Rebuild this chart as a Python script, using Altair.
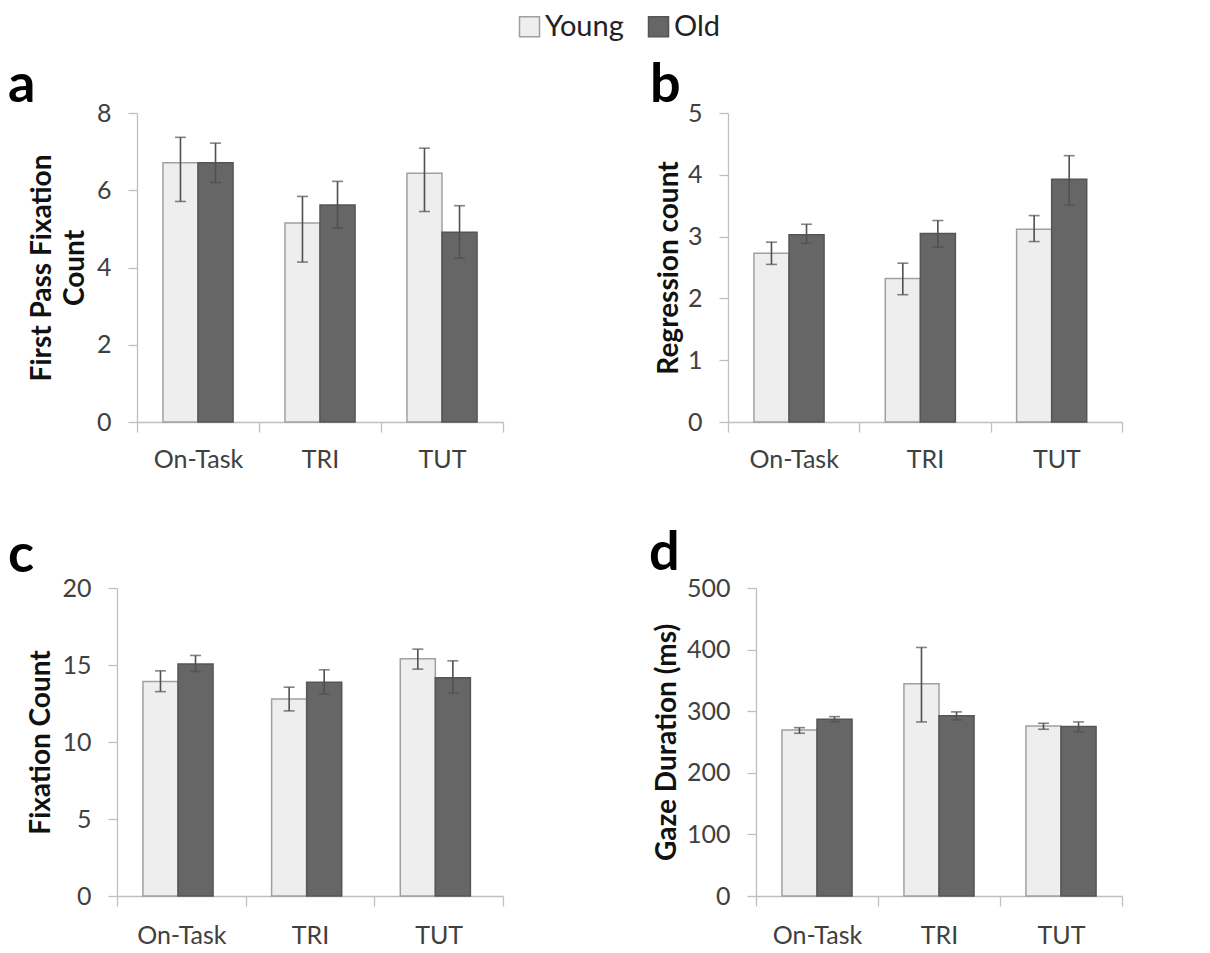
import altair as alt
import pandas as pd

CONDITIONS = ["On-Task", "TRI", "TUT"]
GROUPS = ["Young", "Old"]

# Panel a: First Pass Fixation Count
A_YOUNG = [6.71, 5.15, 6.44]
A_YOUNG_LO = [5.71, 4.14, 5.45]
A_YOUNG_HI = [7.37, 5.84, 7.09]
A_OLD = [6.71, 5.62, 4.91]
A_OLD_LO = [6.20, 5.02, 4.24]
A_OLD_HI = [7.22, 6.23, 5.60]

# Panel b: Regression count
B_YOUNG = [2.73, 2.32, 3.12]
B_YOUNG_LO = [2.55, 2.06, 2.92]
B_YOUNG_HI = [2.91, 2.57, 3.34]
B_OLD = [3.03, 3.05, 3.93]
B_OLD_LO = [2.89, 2.83, 3.51]
B_OLD_HI = [3.20, 3.26, 4.31]

# Panel c: Fixation Count
C_YOUNG = [13.93, 12.80, 15.40]
C_YOUNG_LO = [13.27, 12.02, 14.73]
C_YOUNG_HI = [14.62, 13.56, 16.03]
C_OLD = [15.06, 13.88, 14.18]
C_OLD_LO = [14.58, 13.12, 13.17]
C_OLD_HI = [15.62, 14.69, 15.27]

# Panel d: Gaze Duration (ms)
D_YOUNG = [269.6, 344.4, 276.0]
D_YOUNG_LO = [264.2, 282.6, 270.7]
D_YOUNG_HI = [273.3, 403.5, 280.4]
D_OLD = [287.0, 292.8, 275.0]
D_OLD_LO = [283.1, 285.8, 266.8]
D_OLD_HI = [291.2, 298.9, 282.6]

FONT = "Lato"
AXIS_GRAY = "#bfbfbf"
LABEL_COLOR = "#404040"
ERR_COLOR = "#505050"


def make_df(young, ylo, yhi, old, olo, ohi):
    rows = []
    for i, c in enumerate(CONDITIONS):
        rows.append({"condition": c, "group": "Young", "mean": young[i], "lo": ylo[i], "hi": yhi[i]})
        rows.append({"condition": c, "group": "Old", "mean": old[i], "lo": olo[i], "hi": ohi[i]})
    return pd.DataFrame(rows)


def panel(df, letter, ytitle, ymax, ystep, width, height, dx, dy, title_pad, xlab_pad,
          inset=0, show_legend=False):
    yvals = list(range(0, ymax + 1, ystep))
    xscale = alt.Scale(paddingInner=0, paddingOuter=0, rangeMin=inset) if inset else \
        alt.Scale(paddingInner=0, paddingOuter=0)
    xenc = alt.X(
        "condition:N",
        sort=CONDITIONS,
        scale=xscale,
        axis=alt.Axis(
            title=None, labelAngle=0, tickBand="extent", labelFont=FONT, labelFontSize=25,
            labelColor=LABEL_COLOR, domainColor=AXIS_GRAY, tickColor=AXIS_GRAY, tickSize=10,
            labelPadding=xlab_pad, domainWidth=1.3, tickWidth=1.3,
        ),
    )
    xoff = alt.XOffset("group:N", sort=GROUPS, scale=alt.Scale(paddingInner=0, paddingOuter=0.74))
    yscale = alt.Scale(domain=[0, ymax], nice=False)
    yaxis_kwargs = dict(
        values=yvals, format="d", title=ytitle, labelFont=FONT, labelFontSize=25,
        labelColor=LABEL_COLOR, titleFont=FONT, titleFontSize=28, titleFontWeight="bold",
        titleColor="#111111", titleLineHeight=33, titlePadding=title_pad,
        domainColor=AXIS_GRAY, tickColor=AXIS_GRAY, tickSize=9, labelPadding=17,
        grid=False, domainWidth=1.3, tickWidth=1.3,
    )
    if inset:
        yaxis_kwargs["offset"] = -inset
    yaxis = alt.Axis(**yaxis_kwargs)
    if show_legend:
        legend = alt.Legend(
            title=None, orient="none", legendX=398, legendY=-101, direction="horizontal",
            symbolType="square", symbolSize=400, labelFont=FONT, labelFontSize=29,
            labelColor="#222222", symbolStrokeWidth=1.5, columnPadding=20, labelOffset=1,
            padding=0,
        )
    else:
        legend = None
    base = alt.Chart(df).encode(x=xenc, xOffset=xoff)
    bars = base.mark_bar(strokeWidth=1.5).encode(
        y=alt.Y("mean:Q", scale=yscale, axis=yaxis),
        fill=alt.Fill("group:N", sort=GROUPS,
                      scale=alt.Scale(domain=GROUPS, range=["#eeeeee", "#666666"]), legend=legend),
        stroke=alt.Stroke("group:N", sort=GROUPS,
                          scale=alt.Scale(domain=GROUPS, range=["#a0a0a0", "#555555"]), legend=legend),
    )
    rules = base.mark_rule(color=ERR_COLOR, strokeWidth=1.6).encode(
        y=alt.Y("lo:Q", scale=yscale), y2="hi:Q"
    )
    cap_lo = base.mark_tick(color=ERR_COLOR, thickness=1.6, size=11, orient="horizontal").encode(
        y=alt.Y("lo:Q", scale=yscale)
    )
    cap_hi = base.mark_tick(color=ERR_COLOR, thickness=1.6, size=11, orient="horizontal").encode(
        y=alt.Y("hi:Q", scale=yscale)
    )
    return alt.layer(bars, rules, cap_lo, cap_hi).properties(
        width=width, height=height,
        title=alt.TitleParams(letter, anchor="start", dx=dx, dy=dy, offset=0, font=FONT,
                              fontSize=54, fontWeight="bold", color="#000000",
                              baseline="alphabetic", frame="group"),
    )


df_a = make_df(A_YOUNG, A_YOUNG_LO, A_YOUNG_HI, A_OLD, A_OLD_LO, A_OLD_HI)
df_b = make_df(B_YOUNG, B_YOUNG_LO, B_YOUNG_HI, B_OLD, B_OLD_LO, B_OLD_HI)
df_c = make_df(C_YOUNG, C_YOUNG_LO, C_YOUNG_HI, C_OLD, C_OLD_LO, C_OLD_HI)
df_d = make_df(D_YOUNG, D_YOUNG_LO, D_YOUNG_HI, D_OLD, D_OLD_LO, D_OLD_HI)

pa = panel(df_a, "a", ["First Pass Fixation", "Count"], 8, 2, 386, 309, -109, 55, 7, 15,
           inset=20, show_legend=True)
pb = panel(df_b, "b", "Regression count", 5, 1, 394, 309, -78, 55, 4, 15)
pc = panel(df_c, "c", "Fixation Count", 20, 5, 386, 308, -109, 50, 6, 17)
pd_ = panel(df_d, "d", "Gaze Duration (ms)", 500, 100, 366, 308, -107, 48, 5, 17)

row1 = alt.hconcat(pa, pb, spacing=225, bounds="flush")
row2 = alt.hconcat(pc, pd_, spacing=253, bounds="flush")

chart = alt.vconcat(row1, row2, spacing=475, bounds="flush").properties(
    padding={"left": 0, "top": 4, "right": 5, "bottom": 5}
).configure_view(stroke=None)

chart.save("out.html", embed_options={"renderer": "svg", "actions": False})
